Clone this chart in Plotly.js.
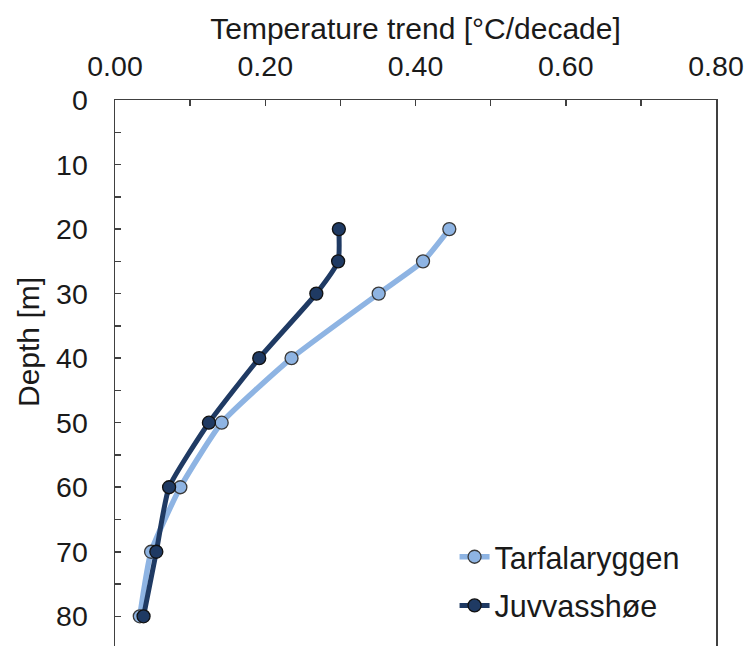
<!DOCTYPE html>
<html>
<head>
<meta charset="utf-8">
<script src="https://cdn.plot.ly/plotly-3.0.1.min.js"></script>
<style>html,body{margin:0;padding:0;background:#fff}#chart{width:748px;height:646px}</style>
</head>
<body>
<div id="chart"></div>
<script>
var depths = [20, 25, 30, 40, 50, 60, 70, 80];
var tarfalaryggen = [0.445, 0.410, 0.351, 0.235, 0.142, 0.087, 0.048, 0.033];
var juvvasshoe = [0.298, 0.297, 0.268, 0.192, 0.125, 0.072, 0.055, 0.038];
var xTickVals = [0, 0.1, 0.2, 0.3, 0.4, 0.5, 0.6, 0.7, 0.8];
var xTickText = ["0.00", "", "0.20", "", "0.40", "", "0.60", "", "0.80"];
var yTickVals = [0, 5, 10, 15, 20, 25, 30, 35, 40, 45, 50, 55, 60, 65, 70, 75, 80];
var yTickText = ["0", "", "10", "", "20", "", "30", "", "40", "", "50", "", "60", "", "70", "", "80"];

var fam = "Liberation Sans, Arial, sans-serif";
var tickFont = {family: fam, size: 28.5, color: "#1a1a1a"};
var titleFont = {family: fam, size: 30, color: "#1a1a1a"};
var legendFont = {family: fam, size: 30.5, color: "#1a1a1a"};

var traces = [
  {
    x: tarfalaryggen, y: depths, name: "Tarfalaryggen", type: "scatter", mode: "lines+markers",
    line: {color: "#8EB4E3", width: 5.5, shape: "spline", smoothing: 0.5},
    marker: {size: 13, color: "#8EB4E3", line: {color: "#3a3a3a", width: 1.3}},
    legendgroup: "a"
  },
  {
    x: juvvasshoe, y: depths, name: "Juvvasshøe", type: "scatter", mode: "lines+markers",
    line: {color: "#1F3A63", width: 5, shape: "spline", smoothing: 0.5},
    marker: {size: 13, color: "#1F3A63", line: {color: "#111", width: 1.3}},
    legendgroup: "b"
  }
];

var layout = {
  width: 748, height: 646,
  margin: {l: 115, r: 32, t: 100, b: 0},
  paper_bgcolor: "#fff", plot_bgcolor: "#fff",
  font: tickFont,
  showlegend: true,
  legend: {
    x: 0.565, y: 0.2117, xanchor: "left", yanchor: "top",
    font: legendFont, bgcolor: "rgba(0,0,0,0)", traceorder: "grouped", tracegroupgap: 6
  },
  xaxis: {
    side: "top", range: [0, 0.8], tickmode: "array", tickvals: xTickVals, ticktext: xTickText,
    ticks: "inside", ticklen: 6, tickwidth: 1.5, tickcolor: "#404040",
    showline: true, linecolor: "#404040", linewidth: 1.5, mirror: false,
    showgrid: false, zeroline: false, tickfont: tickFont, ticklabelstandoff: 11,
    title: {text: "Temperature trend [°C/decade]", font: titleFont, standoff: 1}
  },
  yaxis: {
    range: [84.6, 0], tickmode: "array", tickvals: yTickVals, ticktext: yTickText,
    ticks: "inside", ticklen: 6, tickwidth: 1.5, tickcolor: "#404040",
    showline: true, linecolor: "#404040", linewidth: 1.5, mirror: true,
    showgrid: false, zeroline: false, tickfont: tickFont, ticklabelstandoff: 20
  },
  annotations: [
    {text: "Depth [m]", xref: "paper", yref: "paper", x: (28 - 115) / 601, y: (646 - 342) / 546,
     xanchor: "center", yanchor: "middle", textangle: -90, showarrow: false, font: titleFont}
  ]
};

Plotly.newPlot("chart", traces, layout, {displayModeBar: false, staticPlot: true});
</script>
</body>
</html>
